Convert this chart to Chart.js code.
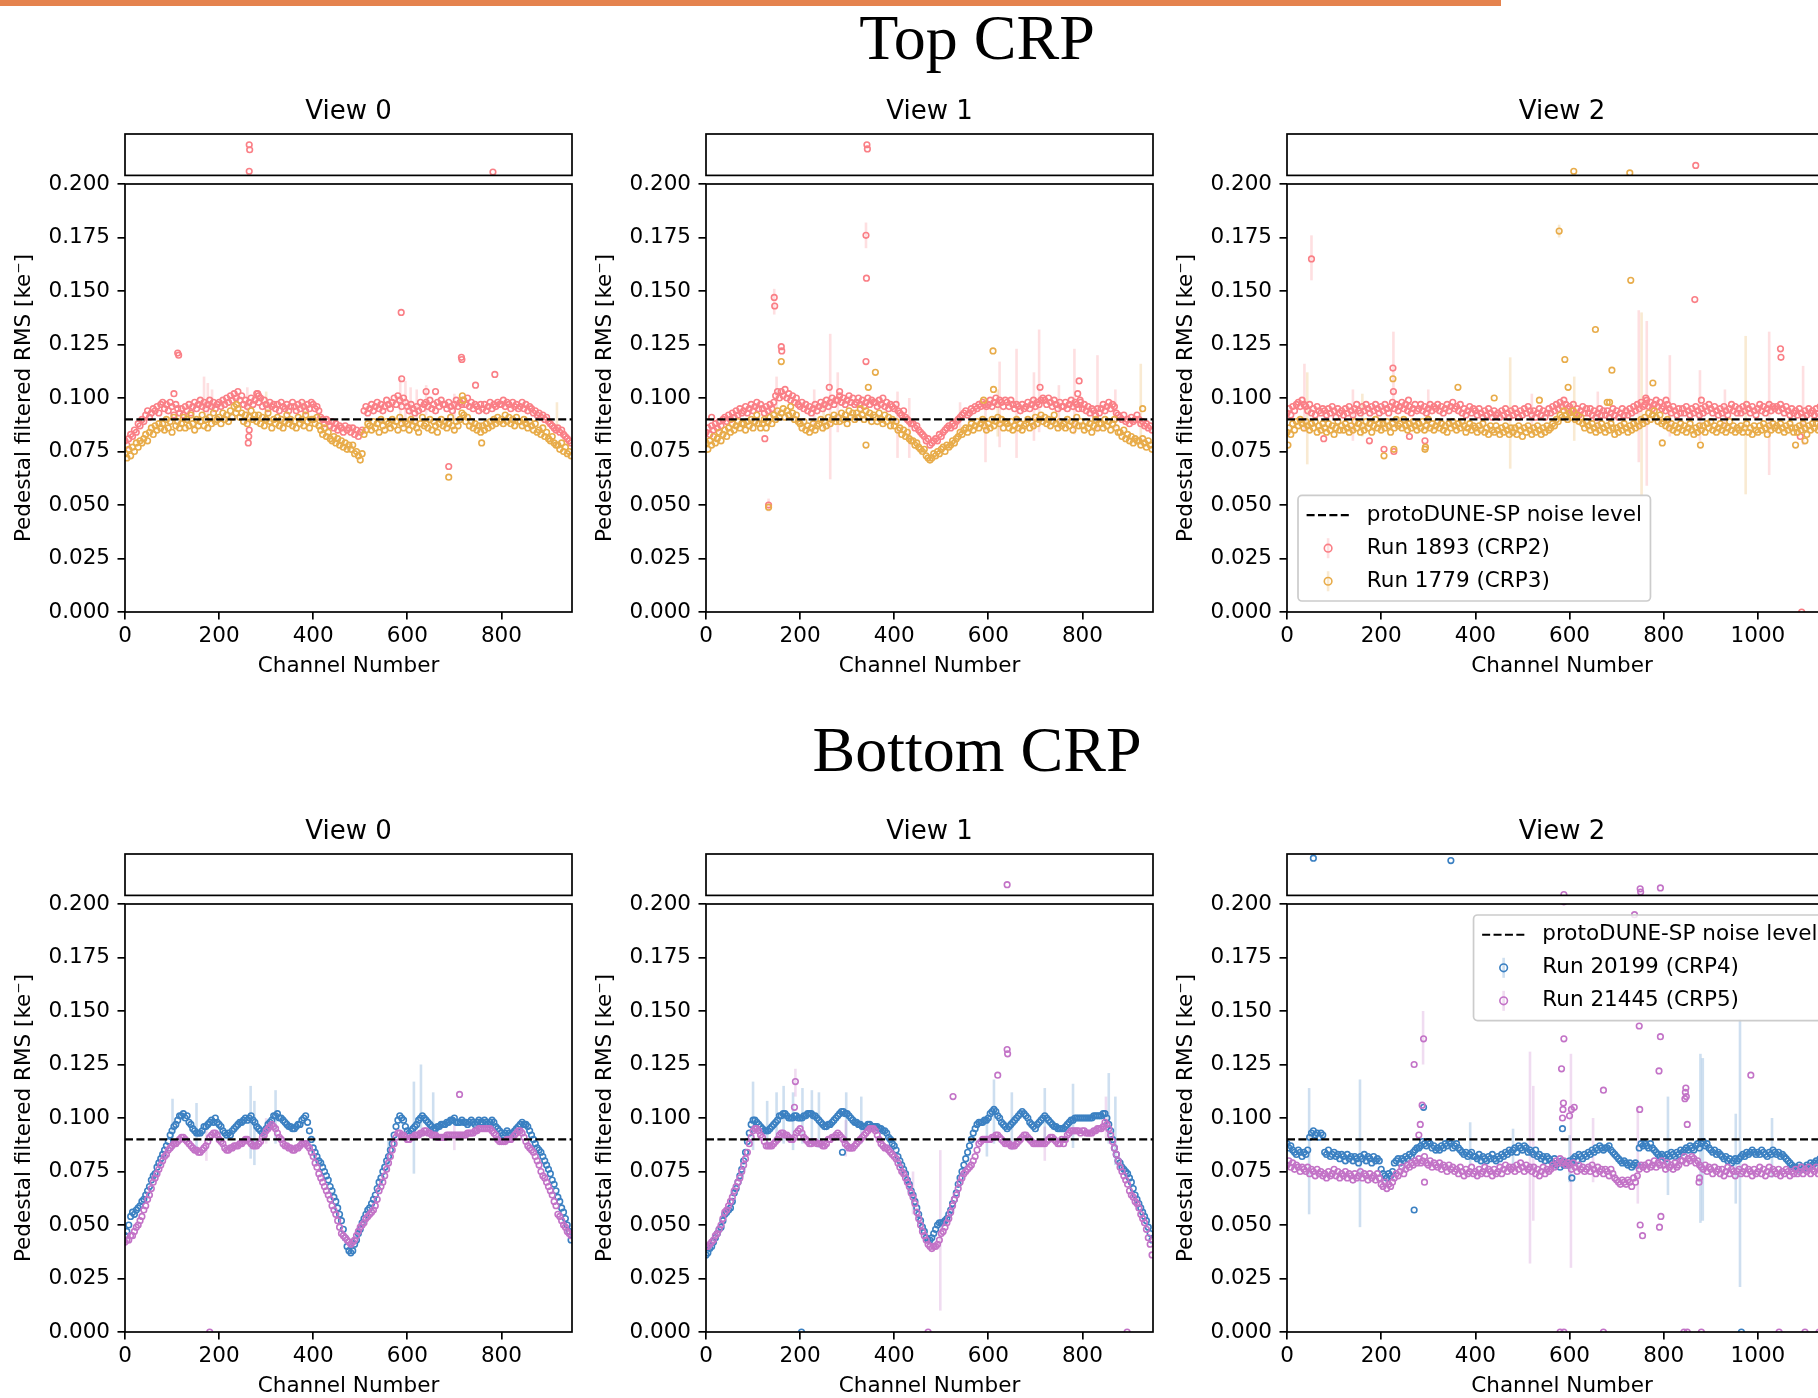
<!DOCTYPE html>
<html>
<head>
<meta charset="utf-8">
<title>Pedestal filtered RMS per channel</title>
<script src="https://cdn.jsdelivr.net/npm/chart.js@4.4.1/dist/chart.umd.min.js"></script>
<style>
  html, body { margin: 0; padding: 0; background: #fff; }
  body { width: 1818px; height: 1398px; position: relative; overflow: hidden; }
  .topbar { position: absolute; left: 0; top: 0; width: 1501px; height: 6px; background: #e5834e; }
  .heading {
    position: absolute; left: 0; width: 1954px; text-align: center;
    font-family: 'Liberation Serif', serif; font-size: 64px; line-height: 64px; color: #000;
  }
  canvas { position: absolute; }
</style>
</head>
<body>
<div class="topbar"></div>
<div class="heading" style="top:6px">Top CRP</div>
<div class="heading" style="top:718px">Bottom CRP</div>

<script>
// RMS values are in electrons, one entry every CH_STEP channels starting at channel 0.
// Plotted in ke (value / 1000).
const CH_STEP = 4;
const NOISE_LEVEL = 90;

const viewNames = ['View 0', 'View 1', 'View 2'];
const channelMax = [950, 950, 1168];
const xTicksShort = [0, 200, 400, 600, 800];
const xTicksLong = [0, 200, 400, 600, 800, 1000];
const yTicks = [0, 0.025, 0.05, 0.075, 0.1, 0.125, 0.15, 0.175, 0.2];
const noiseLabel = 'protoDUNE-SP noise level';
const topRuns = ['Run 1893 (CRP2)', 'Run 1779 (CRP3)'];
const bottomRuns = ['Run 20199 (CRP4)', 'Run 21445 (CRP5)'];

// ---------- Top CRP ----------
const crp2View0 = [
  80,78,81,83,82,85,84,88,87,90,
  89,92,94,91,93,95,94,96,93,97,
  98,95,97,94,98,96,92,97,95,93,
  95,92,96,94,97,93,96,98,95,97,
  99,96,98,95,97,99,96,98,95,97,
  98,96,99,97,100,98,101,99,102,100,
  103,99,101,97,99,96,98,100,97,99,
  102,98,100,96,99,97,95,98,96,97,
  95,97,94,98,96,95,97,94,96,98,
  96,94,97,95,98,96,94,97,95,98,
  97,95,96,94,91,90,88,90,89,87,
  89,86,88,85,87,86,84,87,85,86,
  84,86,83,85,82,84,85,94,96,93,
  95,97,94,96,98,95,97,94,96,99,
  97,95,98,100,97,101,99,96,100,98,
  96,94,97,95,93,96,94,98,95,97,
  98,96,99,95,97,94,98,96,99,97,
  97,95,98,96,94,97,99,96,98,97,
  99,97,100,96,98,95,97,96,94,97,
  95,97,94,96,98,95,97,96,98,97,
  97,99,96,98,97,95,98,96,97,95,
  96,98,95,97,94,96,95,93,94,92,
  93,91,92,90,91,89,88,87,86,85,
  86,84,85,83,82,81,80,79
];
const crp3View0 = [
  74,72,76,73,77,75,79,77,80,79,
  81,83,80,84,86,83,87,85,88,86,
  88,85,90,86,89,84,91,87,89,86,
  88,91,86,90,87,92,88,85,90,87,
  89,92,87,90,86,91,88,93,89,90,
  91,88,93,90,92,89,94,91,96,93,
  95,91,93,89,92,88,91,94,90,92,
  89,92,88,91,87,90,93,89,86,90,
  88,91,87,90,86,89,92,88,90,87,
  89,86,91,88,90,87,92,89,86,90,
  90,88,91,87,85,83,86,82,84,81,
  80,82,79,81,78,80,77,79,76,78,
  76,78,74,75,73,71,74,83,85,88,
  87,85,89,86,88,84,90,87,85,89,
  88,86,90,87,89,85,91,88,86,89,
  88,85,90,87,89,86,84,88,91,87,
  88,86,90,85,89,87,84,88,90,87,
  89,86,88,91,87,85,89,87,90,93,
  92,89,91,87,89,86,88,85,87,84,
  87,85,88,86,89,87,90,88,91,89,
  90,88,92,89,91,88,90,87,91,89,
  89,87,90,88,86,89,87,85,88,84,
  85,83,86,82,84,81,80,82,79,78,
  78,76,79,75,77,74,75,73
];
const crp2View1 = [
  84,86,83,87,85,88,86,89,87,90,
  91,89,92,90,93,91,94,92,95,93,
  94,96,93,95,97,94,96,98,95,97,
  95,93,96,94,97,95,98,101,103,100,
  103,101,104,100,102,99,101,98,100,97,
  96,98,95,97,94,96,93,95,97,94,
  96,98,95,97,99,96,98,100,97,99,
  99,101,98,100,97,99,101,98,100,97,
  98,100,97,99,96,98,100,97,99,98,
  98,96,99,97,100,96,98,95,97,96,
  95,97,94,93,92,94,91,90,89,88,
  88,86,87,85,84,83,82,80,81,78,
  79,80,81,80,83,82,84,85,86,87,
  86,88,87,89,90,91,92,93,94,92,
  93,95,94,96,95,97,96,98,97,96,
  97,99,96,98,100,97,99,98,96,99,
  98,96,99,97,95,97,96,94,97,95,
  96,98,95,97,99,96,98,97,99,100,
  99,97,100,98,96,99,97,95,98,96,
  96,98,95,97,99,96,98,97,95,98,
  95,97,94,96,93,95,94,92,95,93,
  95,97,94,96,98,95,97,96,93,92,
  91,90,92,89,90,88,91,89,90,92,
  90,88,89,87,88,86,87,85
];
const crp3View1 = [
  79,76,80,78,82,79,81,84,80,83,
  85,82,86,84,88,85,87,89,86,88,
  88,85,89,87,90,86,89,92,88,86,
  88,90,86,89,91,88,92,90,94,91,
  93,95,91,94,92,96,93,90,92,89,
  88,86,89,85,87,84,86,88,85,87,
  88,90,86,89,87,91,88,90,92,89,
  91,89,93,90,92,88,94,91,93,90,
  93,91,95,92,90,94,91,93,89,92,
  91,89,93,90,88,92,89,91,87,90,
  87,89,85,86,83,85,82,84,81,80,
  80,78,79,77,76,75,76,73,72,71,
  72,74,73,75,74,76,77,75,78,77,
  78,80,79,81,82,84,83,85,86,84,
  86,88,85,87,89,86,88,90,87,85,
  88,86,90,87,89,91,88,90,86,89,
  88,86,89,85,87,90,86,88,85,87,
  88,90,86,89,87,91,88,90,92,89,
  91,88,90,87,89,92,88,86,89,87,
  88,86,90,87,89,85,88,91,87,89,
  87,85,89,86,88,84,87,90,86,88,
  88,86,90,87,89,85,88,90,86,84,
  84,82,85,81,83,80,82,79,81,80,
  80,78,81,79,77,80,78,76
];
const crp2View2 = [
  93,95,92,96,94,97,98,96,99,97,
  96,94,97,93,95,92,96,94,93,95,
  94,92,95,93,96,94,91,95,93,94,
  92,95,93,96,94,92,95,97,94,93,
  96,94,97,95,93,96,94,97,95,93,
  96,94,97,95,93,96,98,95,97,94,
  96,98,95,97,94,96,93,95,97,94,
  95,97,94,96,93,95,97,94,96,95,
  97,94,96,93,95,97,94,96,98,95,
  96,94,97,93,95,92,94,96,93,95,
  94,92,95,93,91,94,92,95,93,91,
  94,92,93,91,94,92,95,93,91,94,
  92,95,93,91,94,92,95,93,96,94,
  92,94,91,93,95,92,94,91,93,95,
  93,96,94,97,95,98,96,99,97,95,
  96,94,97,93,95,92,94,96,93,95,
  93,95,92,94,91,93,95,92,94,92,
  94,91,93,95,92,94,91,93,95,92,
  94,92,95,93,96,94,97,95,98,96,
  97,99,96,98,95,97,99,96,98,95,
  96,94,97,95,93,96,94,92,95,93,
  95,93,96,94,92,95,93,96,94,92,
  95,93,96,94,97,95,93,96,94,92,
  95,93,96,94,92,95,97,94,96,93,
  95,93,96,94,97,95,93,96,94,92,
  95,97,94,96,93,95,97,94,96,95,
  96,94,97,95,93,96,94,92,95,93,
  94,92,95,93,91,94,92,95,93,94,
  92,95,93,96,94,92,95,93,94,96,
  94,93
];
const crp3View2 = [
  84,86,83,88,85,89,87,90,88,86,
  89,87,85,88,86,89,84,87,85,88,
  86,84,88,85,87,83,86,89,85,87,
  85,88,86,84,87,85,89,86,88,84,
  87,85,89,86,88,84,87,90,86,88,
  85,88,86,89,87,84,88,86,90,87,
  88,86,90,87,85,88,86,89,87,85,
  88,86,89,85,87,90,86,88,85,87,
  89,86,88,85,87,84,88,86,89,87,
  85,88,86,89,87,84,86,88,85,87,
  86,84,87,85,88,84,86,83,87,85,
  84,87,85,83,86,84,87,85,83,86,
  84,86,83,87,85,82,86,84,87,85,
  83,86,84,87,85,83,86,84,87,85,
  86,88,87,90,89,92,91,94,92,90,
  93,91,94,90,92,89,91,88,86,89,
  87,85,88,86,84,87,85,88,86,84,
  87,85,88,86,83,86,84,87,85,88,
  86,84,87,85,88,86,89,87,90,88,
  91,89,93,90,92,94,91,89,92,88,
  89,87,90,86,88,85,87,84,86,88,
  85,87,84,86,88,85,83,86,84,87,
  85,87,84,88,86,89,85,87,84,86,
  88,85,87,84,86,89,85,87,84,86,
  85,87,84,86,88,84,86,83,87,85,
  84,87,85,88,86,83,87,85,88,86,
  87,85,88,86,84,87,85,88,86,84,
  86,84,87,85,88,86,83,87,85,88,
  86,88,85,87,84,86,89,85,87,86,
  85,87
];

// isolated channels: [channel, rms in electrons]; values above 200 land in the upper strip
const crp2View0Extra = [[104,102],[112,121],[114,120],[262,79],[263,82],[264,85],[282,102],[284,101],
  [587,140],[588,109],[640,103],[660,103],[688,68],[715,119],[716,118],[745,106],[786,111],
  [264,237],[265,231],[264,205],[782,204]];
const crp3View0Extra = [[237,97],[688,63],[717,101],[718,99],[758,79]];
const crp2View1Extra = [[12,91],[125,81],[133,50],[145,147],[146,143],[160,124],[161,122],[262,105],[284,103],
  [340,176],[341,156],[340,117],[710,105],[790,102],[793,108],[795,99],[342,237],[343,232]];
const crp3View1Extra = [[133,49],[160,117],[340,78],[345,105],[360,112],[590,99],[610,122],[611,104],[928,95]];
const crp2View2Extra = [[52,165],[78,81],[175,80],[206,76],[225,114],[226,103],[227,75],[258,99],[260,82],[293,80],
  [762,100],[805,99],[866,146],[880,99],[1048,123],[1049,119],[1090,82],[1093,0],[868,212]];
const crp3View2Extra = [[2,78],[206,73],[225,109],[227,76],[293,76],[294,77],[363,105],[440,100],[536,99],
  [578,178],[590,118],[597,105],[655,132],[680,98],[685,98],[690,113],[730,155],[777,107],[797,79],
  [878,78],[1080,78],[1100,80],[609,205],[728,203]];

// error bars: [channel, low, high] in electrons
const crp2View0Err = [[168,92,110],[176,90,107],[185,93,104],[260,88,105],[585,88,110],[596,86,108],
  [607,87,105],[620,88,104],[640,92,106],[700,90,102]];
const crp3View0Err = [[300,88,103],[380,88,99],[918,85,98]];
const crp2View1Err = [[133,47,53],[145,139,151],[150,92,110],[230,86,104],[264,62,130],[280,84,112],[340,170,182],
  [407,72,103],[432,72,100],[540,84,98],[594,70,97],[624,77,117],[660,72,123],[697,80,112],[708,84,132],
  [750,86,106],[783,83,123],[832,84,120],[870,86,104]];
const crp3View1Err = [[250,84,100],[620,82,104],[924,78,116]];
const crp2View2Err = [[37,84,116],[52,155,176],[140,80,104],[226,97,131],[300,86,104],[520,84,102],[660,84,103],
  [747,70,141],[764,59,136],[813,82,120],[877,80,113],[930,86,104],[1024,64,131],[1096,78,115]];
const crp3View2Err = [[43,69,112],[160,82,102],[474,67,119],[578,175,181],[610,80,110],[753,54,140],[974,55,129]];

// ---------- Bottom CRP ----------
const crp4View0 = [
  45,47,50,54,56,55,57,58,59,61,
  62,64,66,68,71,73,74,77,79,81,
  83,85,87,89,92,94,96,97,99,101,
  101,102,100,101,98,97,95,94,93,93,
  93,94,96,96,97,98,99,98,100,98,
  97,96,94,93,92,93,92,94,95,96,
  97,98,98,99,100,99,100,101,99,98,
  96,95,94,93,94,95,97,98,99,101,
  101,102,100,100,99,98,97,96,96,95,
  95,96,97,97,99,100,101,98,94,90,
  86,84,82,80,79,77,75,73,71,68,
  66,63,61,58,55,52,48,44,40,38,
  37,38,41,43,46,48,51,53,55,57,
  58,60,62,64,67,70,72,75,77,80,
  82,85,88,92,96,99,101,100,99,96,
  94,93,94,95,96,97,99,100,101,100,
  99,98,97,96,95,95,96,96,97,97,
  97,98,98,99,99,100,98,98,98,99,
  98,98,97,98,99,98,97,98,99,98,
  98,99,98,97,98,99,98,96,95,94,
  93,92,93,94,93,92,93,94,95,96,
  97,98,97,97,96,94,92,90,88,86,
  85,84,82,80,78,76,74,71,69,66,
  63,61,58,56,53,50,47,43
];
const crp5View0 = [
  42,43,43,45,45,47,49,50,52,54,
  57,59,62,64,67,70,72,74,76,78,
  80,82,83,85,86,87,88,88,89,90,
  91,91,90,89,88,87,86,85,85,84,
  84,85,86,87,89,91,92,93,93,92,
  90,89,88,86,85,85,86,86,87,87,
  87,88,88,89,90,90,89,88,87,87,
  87,88,89,91,92,94,95,96,97,96,
  95,93,91,90,88,87,87,86,86,85,
  85,86,86,87,88,88,88,87,86,84,
  82,79,77,74,72,70,68,66,64,62,
  59,57,55,52,49,46,45,44,43,42,
  41,42,43,45,47,49,50,51,53,54,
  55,56,57,59,62,66,68,70,73,76,
  79,82,85,88,91,93,93,92,92,91,
  90,90,91,91,92,92,92,93,93,94,
  94,93,93,92,92,92,91,91,91,91,
  91,92,92,92,92,92,92,92,92,92,
  92,92,93,93,93,93,94,94,95,95,
  95,95,95,95,95,94,93,92,90,89,
  89,89,89,90,90,90,91,92,93,94,
  94,93,91,89,87,86,85,84,82,80,
  78,75,73,72,70,68,66,64,61,59,
  55,54,52,50,49,47,46,45
];
const crp4View1 = [
  36,37,39,40,42,44,46,48,49,52,
  55,56,57,58,61,65,67,70,73,76,
  80,84,89,93,97,99,99,98,97,96,
  95,94,94,94,95,96,97,98,99,101,
  101,102,102,101,100,100,100,101,101,100,
  100,100,101,101,102,102,102,101,101,100,
  99,98,97,96,96,97,97,98,99,100,
  101,102,103,103,102,102,101,100,99,98,
  98,97,97,96,96,96,97,97,96,96,
  96,96,95,95,94,94,93,91,90,88,
  87,85,82,80,78,76,74,71,69,66,
  64,61,58,55,52,49,47,44,43,43,
  44,46,48,50,51,51,51,52,53,55,
  57,60,62,65,69,72,75,78,81,84,
  87,90,93,95,97,98,98,98,99,99,
  100,102,103,104,103,101,100,98,97,96,
  95,96,97,98,99,100,101,102,103,102,
  101,100,98,97,96,95,97,98,99,100,
  101,100,99,98,97,96,96,95,95,95,
  95,96,97,98,99,99,100,100,100,100,
  100,100,100,100,100,100,101,101,101,101,
  101,102,102,100,97,94,90,86,83,80,
  79,77,76,75,74,72,70,67,64,62,
  60,58,56,54,52,49,46,43
];
const crp5View1 = [
  40,40,41,42,43,45,46,48,50,53,
  56,57,59,61,63,66,68,70,72,75,
  78,81,84,88,91,94,95,95,94,92,
  91,89,87,87,87,87,88,89,90,92,
  93,93,92,92,91,90,90,91,93,94,
  95,93,91,90,89,88,88,89,89,88,
  88,88,87,87,88,90,90,91,91,92,
  93,92,91,90,88,87,86,86,86,87,
  88,89,90,91,92,93,94,95,95,95,
  94,92,90,88,87,86,86,85,84,83,
  82,81,79,77,75,74,72,70,68,65,
  63,60,56,53,50,47,45,43,41,40,
  39,40,40,41,43,46,47,49,51,53,
  56,59,62,64,67,70,72,74,75,76,
  77,78,80,82,85,88,89,90,90,90,
  90,90,91,91,92,92,91,90,89,88,
  88,88,87,87,87,88,89,90,91,92,
  92,91,90,89,88,88,88,88,88,88,
  88,89,90,91,91,90,89,88,88,90,
  88,90,92,93,94,94,94,94,94,93,
  94,94,93,93,93,93,94,94,95,95,
  95,96,98,97,95,92,89,86,83,80,
  77,75,73,71,69,66,64,63,61,60,
  58,55,53,51,48,44,41,36
];
const crp4View2 = [
  88,86,87,85,84,83,85,84,82,84,
  83,85,91,93,94,92,93,91,93,92,
  84,83,85,82,83,84,82,83,81,83,
  82,80,83,81,82,80,82,81,79,82,
  81,83,80,82,81,79,82,80,81,80,
  76,74,73,72,74,73,75,79,80,81,
  79,81,80,82,81,83,82,84,85,86,
  86,87,89,88,87,89,88,86,87,85,
  86,85,87,86,88,87,89,88,86,87,
  88,86,85,84,83,84,82,83,84,82,
  82,81,83,80,82,81,80,82,81,83,
  81,80,82,81,83,82,84,83,85,84,
  85,86,84,87,86,85,87,86,84,85,
  84,83,85,82,83,81,82,80,82,81,
  80,79,81,78,79,77,80,78,79,78,
  80,79,81,82,80,83,82,81,83,82,
  84,83,85,84,86,85,87,86,85,86,
  86,87,85,84,83,82,81,80,79,80,
  79,78,79,77,78,79,78,86,88,87,
  88,87,86,88,86,85,84,83,82,83,
  82,81,83,82,84,83,82,84,83,85,
  84,85,86,85,87,86,85,87,88,86,
  88,89,87,88,86,85,84,85,83,84,
  83,82,81,82,80,81,79,80,81,80,
  81,82,83,82,84,83,84,85,84,83,
  84,83,85,84,83,82,84,83,85,84,
  83,84,82,83,82,81,80,79,78,77,
  77,76,78,77,76,77,78,77,79,78,
  79,80,79,81,80,82,81,82,83,81,
  82,83
];
const crp5View2 = [
  78,80,77,79,76,78,77,75,77,76,
  75,77,74,76,75,73,76,74,75,73,
  74,72,75,73,74,76,73,75,72,74,
  73,75,72,74,73,71,74,72,73,75,
  72,74,73,71,74,72,73,71,74,72,
  69,68,70,67,69,68,70,72,74,73,
  75,77,74,76,78,77,79,78,80,79,
  81,79,80,82,79,78,80,77,79,78,
  77,79,76,78,77,75,78,76,77,75,
  76,74,77,75,73,76,74,75,77,74,
  75,73,76,74,75,77,74,76,75,73,
  76,74,75,77,74,76,78,75,77,76,
  77,75,78,76,79,77,75,78,76,77,
  75,77,74,76,73,75,77,74,76,75,
  76,78,77,80,79,81,79,80,78,79,
  78,76,79,77,75,78,76,77,75,76,
  77,75,78,76,74,77,75,76,74,76,
  75,73,76,74,72,71,70,69,71,70,
  69,71,70,68,72,70,73,76,78,77,
  78,76,79,77,78,80,77,79,78,80,
  78,76,79,77,78,76,79,77,78,80,
  80,82,79,81,80,82,81,79,80,78,
  77,76,78,75,77,76,74,77,75,76,
  74,76,73,75,77,74,76,75,73,75,
  76,74,75,77,74,76,75,73,76,74,
  75,77,74,76,73,75,77,74,76,75,
  74,76,73,75,74,76,75,73,75,74,
  76,74,75,77,74,76,75,77,74,76,
  75,77,74,76,78,75,77,76,74,76,
  77,75
];

const crp4View0Extra = [];
const crp5View0Extra = [[180,0],[711,111]];
const crp4View1Extra = [[203,0],[290,84]];
const crp5View1Extra = [[188,105],[190,117],[472,0],[525,110],[620,120],[640,132],[641,130],[895,0],[640,213]];
const crp4View2Extra = [[270,57],[290,105],[585,95],[605,72],[965,0],[56,245],[348,242]];
const crp5View2Extra = [[270,125],[280,92],[283,97],[287,106],[290,137],[292,70],[583,123],[585,100],[586,104],
  [587,107],[588,137],[600,101],[604,104],[610,105],[672,113],[738,195],[748,143],[749,104],[750,50],[755,45],
  [790,122],[791,49],[793,138],[794,54],[845,109],[846,112],[847,114],[848,110],[850,97],[875,70],[876,72],
  [985,120],[580,0],[588,0],[672,0],[843,0],[850,0],[880,0],[1045,0],[1100,0],[1130,0],
  [588,201],[750,208],[751,204],[793,209]];

const crp4View0Err = [[101,85,109],[152,84,107],[267,81,115],[275,78,108],[320,88,113],[560,75,90],
  [614,74,117],[629,95,125],[655,90,112]];
const crp5View0Err = [[173,80,96],[300,88,100],[700,85,100]];
const crp4View1Err = [[100,85,117],[130,86,108],[150,88,112],[165,88,115],[185,85,112],[205,88,114],
  [225,87,113],[240,86,112],[298,86,112],[330,88,110],[597,82,100],[612,88,118],[650,85,112],
  [720,88,114],[780,86,116],[856,88,121],[870,78,110]];
const crp5View1Err = [[190,110,123],[297,82,99],[440,55,75],[498,10,85],[720,80,96],[850,90,110]];
const crp4View2Err = [[47,55,114],[155,49,118],[389,78,98],[480,78,95],[600,70,92],[809,64,110],
  [878,51,130],[883,52,128],[953,60,102],[962,21,146],[1030,72,100]];
const crp5View2Err = [[289,125,150],[516,32,131],[523,52,115],[603,30,130],[650,70,100],[745,60,105]];

// ---------- styling ----------
const COLORS = { crp2: '#fa7f86', crp3: '#e8ac4a', crp4: '#3b80c2', crp5: '#c373c7' };
const FONT = "'DejaVu Sans', sans-serif";
const PANEL_LEFT = [125, 706, 1287];
const PANEL_WIDTH = [447, 447, 550];
const ROW_TOP = [184, 904];      // top of main axes
const STRIP_TOP = [134, 854];    // top of the >0.2 strip
const AXES_H = 428, STRIP_H = 43, Y_AXIS_W = 125, X_AXIS_H = 70;

Chart.defaults.font.family = FONT;
Chart.defaults.font.size = 21.5;
Chart.defaults.color = '#000';

function makeCanvas(left, top, width, height) {
  const c = document.createElement('canvas');
  c.width = width;
  c.height = height;
  c.style.left = left + 'px';
  c.style.top = top + 'px';
  c.style.width = width + 'px';
  c.style.height = height + 'px';
  document.body.appendChild(c);
  return c;
}

function toPoints(values, extra) {
  const pts = values.map((v, i) => ({ x: i * CH_STEP, y: v / 1000 }));
  extra.forEach(([ch, v]) => pts.push({ x: ch, y: v / 1000 }));
  return pts;
}

function scatterSet(s, order) {
  return {
    type: 'scatter',
    label: s.label,
    data: toPoints(s.values, s.extra),
    order: order,
    clip: 0,
    showLine: false,
    pointStyle: 'circle',
    pointRadius: 2.8,
    pointBorderWidth: 1.6,
    pointBorderColor: s.color,
    pointBackgroundColor: 'rgba(0,0,0,0)',
    borderColor: s.color,
    backgroundColor: s.color
  };
}

function noiseSet(xMax) {
  return {
    type: 'line',
    label: noiseLabel,
    data: [{ x: 0, y: NOISE_LEVEL / 1000 }, { x: xMax, y: NOISE_LEVEL / 1000 }],
    order: 0,
    clip: 0,
    borderColor: '#000',
    borderWidth: 2.2,
    borderDash: [8, 3.4],
    pointRadius: 0
  };
}

// box around the plotting area, drawn above the markers
const framePlugin = {
  id: 'frame',
  afterDatasetsDraw(chart) {
    const { ctx, chartArea: a } = chart;
    ctx.save();
    ctx.strokeStyle = '#000';
    ctx.lineWidth = 1.7;
    ctx.strokeRect(a.left, a.top, a.right - a.left, a.bottom - a.top);
    ctx.restore();
  }
};

function errorBars(series) {
  return {
    id: 'errorBars',
    beforeDatasetsDraw(chart) {
      const { ctx, chartArea: a, scales: { x, y } } = chart;
      ctx.save();
      ctx.beginPath();
      ctx.rect(a.left, a.top, a.right - a.left, a.bottom - a.top);
      ctx.clip();
      ctx.globalAlpha = 0.25;
      ctx.lineWidth = 2.6;
      series.forEach(s => {
        ctx.strokeStyle = s.color;
        s.err.forEach(([ch, lo, hi]) => {
          const px = x.getPixelForValue(ch);
          ctx.beginPath();
          ctx.moveTo(px, y.getPixelForValue(lo / 1000));
          ctx.lineTo(px, y.getPixelForValue(hi / 1000));
          ctx.stroke();
        });
      });
      ctx.restore();
    }
  };
}

// framed legend placed inside the axes, anchored by offsets from the plot edges
function boxLegend(series, anchor) {
  return {
    id: 'boxLegend',
    afterDraw(chart) {
      const { ctx, chartArea: a } = chart;
      const fs = 21.5, pad = 8.6, handle = 43, gap = 17.2, rowH = 22.3, spacing = 10.75;
      const entries = [{ label: noiseLabel, dash: true }].concat(series);
      ctx.save();
      ctx.font = fs + 'px ' + FONT;
      const textW = Math.max(...entries.map(e => ctx.measureText(e.label).width));
      const w = pad * 2 + handle + gap + textW;
      const h = pad * 2 + entries.length * rowH + (entries.length - 1) * spacing;
      const left = anchor.right !== undefined ? a.right - anchor.right - w : a.left + anchor.left;
      const top = anchor.bottom !== undefined ? a.bottom - anchor.bottom - h : a.top + anchor.top;
      ctx.beginPath();
      ctx.roundRect(left, top, w, h, 4);
      ctx.fillStyle = 'rgba(255,255,255,0.8)';
      ctx.fill();
      ctx.strokeStyle = '#cccccc';
      ctx.lineWidth = 1.7;
      ctx.stroke();
      entries.forEach((e, i) => {
        const cy = top + pad + rowH / 2 + i * (rowH + spacing);
        const hx = left + pad;
        if (e.dash) {
          ctx.strokeStyle = '#000';
          ctx.lineWidth = 2.2;
          ctx.setLineDash([8, 3.4]);
          ctx.beginPath();
          ctx.moveTo(hx, cy);
          ctx.lineTo(hx + handle, cy);
          ctx.stroke();
          ctx.setLineDash([]);
        } else {
          const mx = hx + handle / 2;
          ctx.strokeStyle = e.color;
          ctx.globalAlpha = 0.25;
          ctx.lineWidth = 2.6;
          ctx.beginPath();
          ctx.moveTo(mx, cy - 10);
          ctx.lineTo(mx, cy + 10);
          ctx.stroke();
          ctx.globalAlpha = 1;
          ctx.lineWidth = 1.6;
          ctx.beginPath();
          ctx.arc(mx, cy, 3.8, 0, Math.PI * 2);
          ctx.stroke();
        }
        ctx.fillStyle = '#000';
        ctx.textAlign = 'left';
        ctx.textBaseline = 'middle';
        ctx.fillText(e.label, hx + handle + gap, cy);
      });
      ctx.restore();
    }
  };
}

const baseOptions = {
  responsive: false,
  animation: false,
  events: [],
  devicePixelRatio: 1
};

// one view: a thin strip for values above 0.2 and the main axes below it
function drawPanel(row, col, series, legendAnchor) {
  const xMax = channelMax[col];
  const xTicks = col === 2 ? xTicksLong : xTicksShort;
  const left = PANEL_LEFT[col], width = PANEL_WIDTH[col];
  const datasets = () => [noiseSet(xMax)].concat(series.map((s, i) => scatterSet(s, series.length - i)));

  // upper strip
  const sc = makeCanvas(left - 10, STRIP_TOP[row] - 44, width + 20, 44 + STRIP_H + 4);
  new Chart(sc, {
    type: 'scatter',
    data: { datasets: datasets().slice(1) },
    options: Object.assign({}, baseOptions, {
      layout: { padding: { left: 10, right: 10, top: 0, bottom: 4 } },
      plugins: {
        legend: { display: false },
        tooltip: { enabled: false },
        title: {
          display: true, text: viewNames[col], color: '#000',
          font: { family: FONT, size: 26, weight: 'normal' },
          padding: { top: 6.4, bottom: 6.4 }
        }
      },
      scales: {
        x: { type: 'linear', min: 0, max: xMax, display: false },
        y: { type: 'linear', min: 0.2, max: 0.25, display: false }
      }
    }),
    plugins: [framePlugin]
  });

  // main axes
  const mc = makeCanvas(left - Y_AXIS_W, ROW_TOP[row] - 12, Y_AXIS_W + width + 20, 12 + AXES_H + X_AXIS_H);
  const tickGrid = { display: true, drawOnChartArea: false, drawTicks: true, tickLength: 7.5, color: '#000', lineWidth: 1.7 };
  const plugins = [framePlugin, errorBars(series)];
  if (legendAnchor) plugins.push(boxLegend(series, legendAnchor));
  new Chart(mc, {
    type: 'scatter',
    data: { datasets: datasets() },
    options: Object.assign({}, baseOptions, {
      layout: { padding: { left: 0, right: 20, top: 12, bottom: 0 } },
      plugins: { legend: { display: false }, tooltip: { enabled: false } },
      scales: {
        x: {
          type: 'linear', min: 0, max: xMax,
          grid: tickGrid,
          border: { display: false },
          ticks: { padding: 3.6, color: '#000', maxRotation: 0, autoSkip: false, callback: v => String(v) },
          afterBuildTicks: s => { s.ticks = xTicks.map(v => ({ value: v })); },
          afterFit: s => { s.height = X_AXIS_H; s.paddingLeft = 0; s.paddingRight = 0; },
          title: { display: true, text: 'Channel Number', color: '#000', padding: { top: 0, bottom: 3.1 } }
        },
        y: {
          type: 'linear', min: 0, max: 0.2,
          grid: tickGrid,
          border: { display: false },
          ticks: { padding: 7.5, color: '#000', autoSkip: false, callback: v => v.toFixed(3) },
          afterBuildTicks: s => { s.ticks = yTicks.map(v => ({ value: v })); },
          afterFit: s => { s.width = Y_AXIS_W; s.paddingTop = 0; s.paddingBottom = 0; },
          title: { display: true, text: 'Pedestal filtered RMS [ke\u207B]', color: '#000', padding: { top: 12, bottom: 0 } }
        }
      }
    }),
    plugins: plugins
  });
}

const topSeries = [
  [crp2View0, crp2View0Extra, crp2View0Err, crp3View0, crp3View0Extra, crp3View0Err],
  [crp2View1, crp2View1Extra, crp2View1Err, crp3View1, crp3View1Extra, crp3View1Err],
  [crp2View2, crp2View2Extra, crp2View2Err, crp3View2, crp3View2Extra, crp3View2Err]
];
const bottomSeries = [
  [crp4View0, crp4View0Extra, crp4View0Err, crp5View0, crp5View0Extra, crp5View0Err],
  [crp4View1, crp4View1Extra, crp4View1Err, crp5View1, crp5View1Extra, crp5View1Err],
  [crp4View2, crp4View2Extra, crp4View2Err, crp5View2, crp5View2Extra, crp5View2Err]
];

topSeries.forEach((d, col) => {
  drawPanel(0, col, [
    { label: topRuns[0], values: d[0], extra: d[1], err: d[2], color: COLORS.crp2 },
    { label: topRuns[1], values: d[3], extra: d[4], err: d[5], color: COLORS.crp3 }
  ], col === 2 ? { left: 11, bottom: 11 } : null);
});
bottomSeries.forEach((d, col) => {
  drawPanel(1, col, [
    { label: bottomRuns[0], values: d[0], extra: d[1], err: d[2], color: COLORS.crp4 },
    { label: bottomRuns[1], values: d[3], extra: d[4], err: d[5], color: COLORS.crp5 }
  ], col === 2 ? { right: 11, top: 11 } : null);
});
</script>
</body>
</html>
